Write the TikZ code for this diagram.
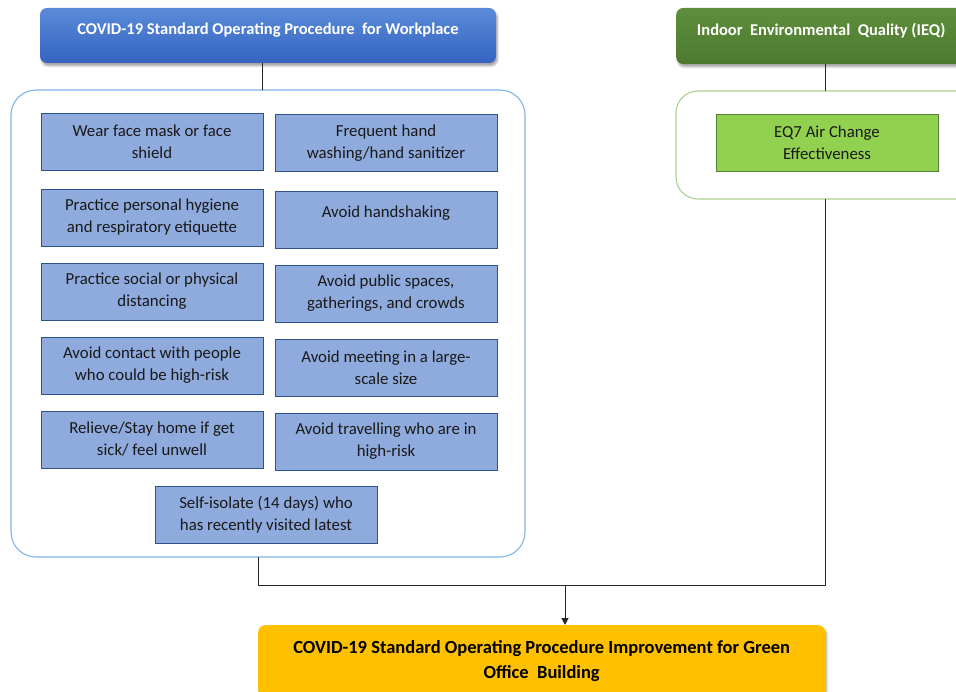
\documentclass[tikz,border=0pt]{standalone}
\usepackage{fontspec}
\setmainfont{Carlito}
\usetikzlibrary{shadows.blur,arrows.meta}
\definecolor{itemfill}{HTML}{8FAADC}
\definecolor{itemline}{HTML}{2F528F}
\definecolor{groupblue}{HTML}{7FB2E5}
\definecolor{headtop}{HTML}{5B8BD8}
\definecolor{headbot}{HTML}{3463C2}
\definecolor{ieqtop}{HTML}{5E8E3C}
\definecolor{ieqbot}{HTML}{4E7A30}
\definecolor{groupgreen}{HTML}{A9D18E}
\definecolor{eqfill}{HTML}{92D050}
\definecolor{eqline}{HTML}{548235}
\definecolor{resultfill}{HTML}{FFC000}
\tikzset{
  header/.style={rounded corners=7pt, draw=none, align=center,
    font=\fontsize{16.5}{20}\selectfont\bfseries,
    blur shadow={shadow xshift=1.5pt, shadow yshift=-3pt, shadow blur steps=6, shadow opacity=35}},
  topheader/.style={header, text=white, text depth=13pt},
  itemtext/.style={align=center, text=black!90, font=\fontsize{16.8}{22}\selectfont},
  item/.style={itemtext, draw=itemline, fill=itemfill, line width=0.9pt,
    minimum width=222pt, minimum height=57pt, inner sep=2pt},
  group/.style={draw, line width=1.1pt, rounded corners=25pt},
  link/.style={draw=black!85, line width=1pt},
}
\begin{document}
\begin{tikzpicture}[x=1pt,y=-1pt]
\useasboundingbox (0,0) rectangle (956,692);
\begin{scope}
\clip (0,0) rectangle (956,692);
% headers
\node[topheader, top color=headtop, bottom color=headbot,
  minimum width=456pt, minimum height=55pt] (sop) at (268,35.5)
  {COVID-19 Standard Operating Procedure \ for Workplace};
\node[topheader, top color=ieqtop, bottom color=ieqbot,
  minimum width=290pt, minimum height=56pt, anchor=west] (ieq) at (676,36)
  {Indoor \ Environmental \ Quality (IEQ)};
% group frames
\draw[group, draw=groupblue] (11,90) rectangle (525,557);
\coordinate (grpTop) at (262,90);
\coordinate (grpBot) at (258,557);
\draw[group, draw=groupgreen, rounded corners=22pt] (676,91) rectangle (990,199);
\coordinate (ieqTop) at (825,91);
\coordinate (ieqBot) at (825,199);
% measures
\node[item] (a1) at (152,142) {Wear face mask or face\\shield};
\node[item] (b1) at (386,143) {Frequent hand\\washing/hand sanitizer};
\node[item] (a2) at (152,217.5) {Practice personal hygiene\\and respiratory etiquette};
\node[item] (b2) at (386,220) {};
\node[itemtext] (b2t) at (386,213) {Avoid handshaking};
\node[item] (a3) at (152,291.5) {Practice social or physical\\distancing};
\node[item] (b3) at (386,293.5) {Avoid public spaces,\\gatherings, and crowds};
\node[item] (a4) at (152,365.5) {Avoid contact with people\\who could be high-risk};
\node[item] (b4) at (386,367.5) {Avoid meeting in a large-\\scale size};
\node[item] (a5) at (152,439.5) {Relieve/Stay home if get\\sick/ feel unwell};
\node[item] (b5) at (386,441.5) {Avoid travelling who are in\\high-risk};
\node[item] (c6) at (266,515) {Self-isolate (14 days) who\\has recently visited latest};
\node[item, fill=eqfill, draw=eqline] (eq7) at (827,143) {EQ7 Air Change\\Effectiveness};
% outcome
\node[header, fill=resultfill, text=black, font=\fontsize{18.5}{25}\selectfont\bfseries,
  minimum width=567pt, minimum height=72pt, anchor=north west] (res) at (258,625)
  {COVID-19 Standard Operating Procedure Improvement for Green\\Office \ Building};
% connectors
\draw[link] (sop.south -| grpTop) -- (grpTop);
\draw[link] (ieq.south -| ieqTop) -- (ieqTop);
\coordinate (join) at (565,585);
\draw[link] (ieqBot) -- (ieqBot |- join) -| (grpBot);
\draw[link, -{Triangle[length=7pt,width=7pt]}] (join) -- (res.north -| join);
\end{scope}
\end{tikzpicture}
\end{document}
